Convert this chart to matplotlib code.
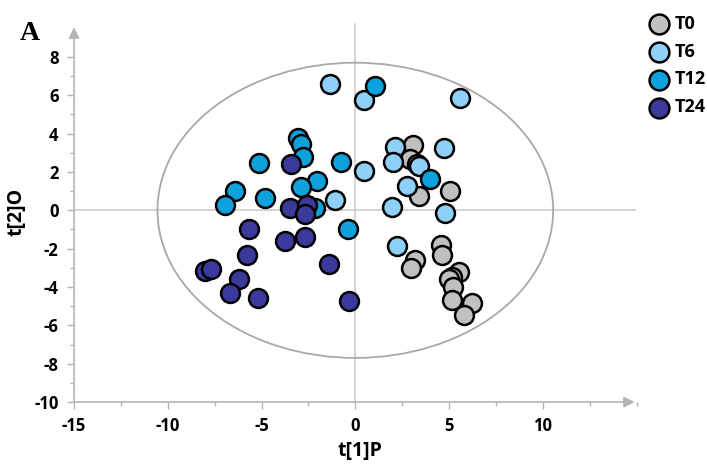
import matplotlib
matplotlib.use('Agg')
import matplotlib.pyplot as plt
from matplotlib.patches import Ellipse
from matplotlib.ticker import MultipleLocator

plt.rcParams['font.family'] = ['Open Sans', 'DejaVu Sans']
plt.rcParams['axes.unicode_minus'] = False

# score values, per time point
t0_x = [3.07, 2.93, 3.30, 3.38, 5.03, 4.58, 4.62, 3.20, 2.97, 5.51, 5.15, 5.00, 5.21, 5.15, 6.22, 5.77]
t0_y = [3.41, 2.66, 2.40, 0.75, 1.02, -1.81, -2.33, -2.59, -3.03, -3.20, -3.46, -3.60, -3.98, -4.68, -4.82, -5.46]

t6_x = [-1.33, 0.44, 5.56, 2.13, 4.74, 2.01, 3.38, 2.75, 1.96, 4.80, 2.22, 0.44, -1.10]
t6_y = [6.59, 5.75, 5.84, 3.29, 3.23, 2.54, 2.31, 1.27, 0.16, -0.12, -1.86, 2.05, 0.54]

t12_x = [1.03, -3.05, -2.88, -2.79, -5.12, -0.76, -2.04, -2.88, -6.43, -6.97, -4.80, -2.13, -0.39, 3.97]
t12_y = [6.48, 3.76, 3.46, 2.80, 2.48, 2.54, 1.54, 1.23, 1.01, 0.28, 0.63, 0.14, -0.98, 1.61]

t24_x = [-3.41, -3.50, -2.57, -2.70, -5.69, -3.77, -2.67, -5.77, -1.42, -8.00, -7.69, -6.22, -6.70, -5.19, -0.32]
t24_y = [2.41, 0.14, 0.28, -0.19, -0.98, -1.59, -1.38, -2.33, -2.80, -3.17, -3.07, -3.58, -4.33, -4.59, -4.73]

groups = [
    ('T0', t0_x, t0_y, '#c0c0c0'),
    ('T6', t6_x, t6_y, '#8fd0f8'),
    ('T12', t12_x, t12_y, '#0ea2dc'),
    ('T24', t24_x, t24_y, '#3b3a9c'),
]

fig = plt.figure(figsize=(7.07, 4.68), dpi=100)
ax = fig.add_axes([0.1047, 0.141, 0.809, 0.811])
ax.set_xlim(-15, 15.5)
ax.set_ylim(-10, 9.8)

for s in ax.spines.values():
    s.set_visible(False)

axis_col = '#b4b4b4'
# axes with arrow heads
ax.annotate('', xy=(14.9, -10), xytext=(-15, -10),
            arrowprops=dict(arrowstyle='-|>', color=axis_col, lw=1.2, mutation_scale=16, shrinkA=0, shrinkB=0),
            annotation_clip=False)
ax.annotate('', xy=(-15, 9.55), xytext=(-15, -10),
            arrowprops=dict(arrowstyle='-|>', color=axis_col, lw=1.2, mutation_scale=16, shrinkA=0, shrinkB=0),
            annotation_clip=False)

# zero lines
ax.plot([-15, 14.9], [0, 0], color='#cccccc', lw=1.2, zorder=1)
ax.plot([0, 0], [-10, 9.7], color='#cccccc', lw=1.2, zorder=1)

# confidence ellipse
ax.add_patch(Ellipse((0, 0), 2 * 10.55, 2 * 7.7, fill=False, edgecolor='#a8a8a8', lw=1.3, zorder=2))

for name, xs, ys, col in groups:
    ax.scatter(xs, ys, s=185, c=col, edgecolors='black', linewidths=1.8, label=name, zorder=3)

ax.xaxis.set_minor_locator(MultipleLocator(2.5))
ax.yaxis.set_minor_locator(MultipleLocator(1))
ax.set_xticks([-15, -10, -5, 0, 5, 10])
ax.set_yticks(range(-10, 9, 2))
ax.tick_params(which='major', direction='out', length=5, color=axis_col, width=1, labelsize=12, pad=6)
ax.tick_params(which='minor', direction='out', length=3, color=axis_col, width=1)
for lab in ax.get_xticklabels() + ax.get_yticklabels():
    lab.set_fontweight('bold')

ax.set_xlabel('t[1]P', fontsize=14, fontweight='bold', labelpad=4)
ax.set_ylabel('t[2]O', fontsize=14, fontweight='bold', labelpad=6)

fig.text(0.028, 0.915, 'A', fontfamily='Liberation Serif', fontweight='bold', fontsize=20)

leg = ax.legend(loc='upper left', bbox_to_anchor=(0.893, 0.99), bbox_transform=fig.transFigure,
                frameon=False, handletextpad=-0.15, labelspacing=0.55, borderaxespad=0.15,
                prop={'weight': 'bold', 'size': 13}, markerscale=1.05)

fig.savefig('out.png', dpi=100)
